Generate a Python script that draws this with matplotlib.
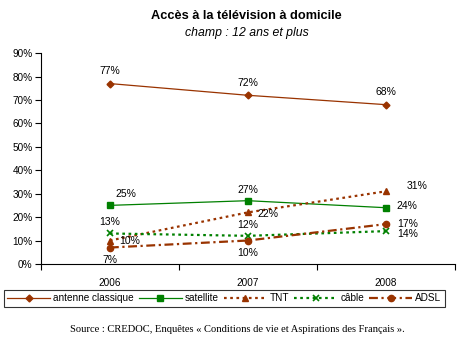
import matplotlib
matplotlib.use("Agg")
import matplotlib.pyplot as plt
from matplotlib.ticker import FixedLocator

years = ["2006", "2007", "2008"]
antenne = [77, 72, 68]
satellite = [25, 27, 24]
tnt = [10, 22, 31]
cable = [13, 12, 14]
adsl = [7, 10, 17]
yticks = [0, 10, 20, 30, 40, 50, 60, 70, 80, 90]

BROWN = "#993300"
GREEN = "#008000"

plt.rcParams["font.family"] = ["Liberation Sans", "DejaVu Sans"]

fig = plt.figure(figsize=(4.65, 3.45), dpi=100)
ax = fig.add_axes([0.088, 0.235, 0.890, 0.611])

x = list(range(len(years)))
ax.plot(x, antenne, color=BROWN, lw=0.9, marker="D", ms=3.5, label="antenne classique")
ax.plot(x, satellite, color=GREEN, lw=0.9, marker="s", ms=4.5, label="satellite")
ax.plot(x, tnt, color=BROWN, lw=1.6, ls=(0, (1.2, 1.6)), marker="^", ms=4.5, label="TNT")
ax.plot(x, cable, color=GREEN, lw=1.6, ls=(0, (1.2, 1.6)), marker="x", ms=4.5, mew=1.2, label="câble")
ax.plot(x, adsl, color=BROWN, lw=1.6, ls=(0, (4, 1.6, 1, 1.6)), marker="o", ms=4.5, label="ADSL")

ax.set_xlim(-0.5, 2.5)
ax.set_ylim(0, 90)
ax.set_yticks(yticks)
ax.set_yticklabels([f"{v}%" for v in yticks], fontsize=7.2)
ax.set_xticks(x)
ax.set_xticklabels(years, fontsize=7.2)
ax.tick_params(axis="x", length=0, pad=10)
ax.xaxis.set_minor_locator(FixedLocator([-0.5, 0.5, 1.5, 2.5]))
ax.tick_params(axis="x", which="minor", length=4, width=0.8)
ax.tick_params(axis="y", length=4, width=0.8, pad=2)
for s in ["top", "right"]:
    ax.spines[s].set_visible(False)
for s in ["left", "bottom"]:
    ax.spines[s].set_linewidth(0.8)

lab = dict(fontsize=7.5, color="black")
def put(i, v, dx, dy, ha="center", va="center"):
    ax.annotate(f"{v}%", (i, v), xytext=(dx, dy), textcoords="offset points",
                ha=ha, va=va, **lab)

for i, v in enumerate(antenne):
    put(i, v, 0, 9)
put(0, satellite[0], 4, 8, ha="left")
put(1, satellite[1], 0, 8)
put(2, satellite[2], 8, 1, ha="left")
put(0, tnt[0], 7, 0, ha="left")
put(1, tnt[1], 7, -1, ha="left")
put(2, tnt[2], 15, 4, ha="left")
put(0, cable[0], 0, 8)
put(1, cable[1], 0, 8)
put(2, cable[2], 8, -2, ha="left")
put(0, adsl[0], 0, -9)
put(1, adsl[1], 0, -9)
put(2, adsl[2], 8, 0, ha="left")

fig.text(0.53, 0.955, "Accès à la télévision à domicile", ha="center", va="center",
         fontsize=9.2, fontweight="bold")
fig.text(0.53, 0.905, "champ : 12 ans et plus", ha="center", va="center",
         fontsize=8.8, style="italic")

leg = fig.legend(loc="center", bbox_to_anchor=(0.482, 0.135), ncol=5, fontsize=7.2,
                 frameon=True, fancybox=False, edgecolor="black", handlelength=4.3,
                 handletextpad=0.3, columnspacing=0.5, borderpad=0.35)
leg.get_frame().set_linewidth(0.8)

fig.text(0.51, 0.045, "Source : CREDOC, Enquêtes « Conditions de vie et Aspirations des Français ».",
         ha="center", va="center", fontsize=7.6, family=["Liberation Serif", "DejaVu Serif"])

fig.savefig("out.png", dpi=100)
